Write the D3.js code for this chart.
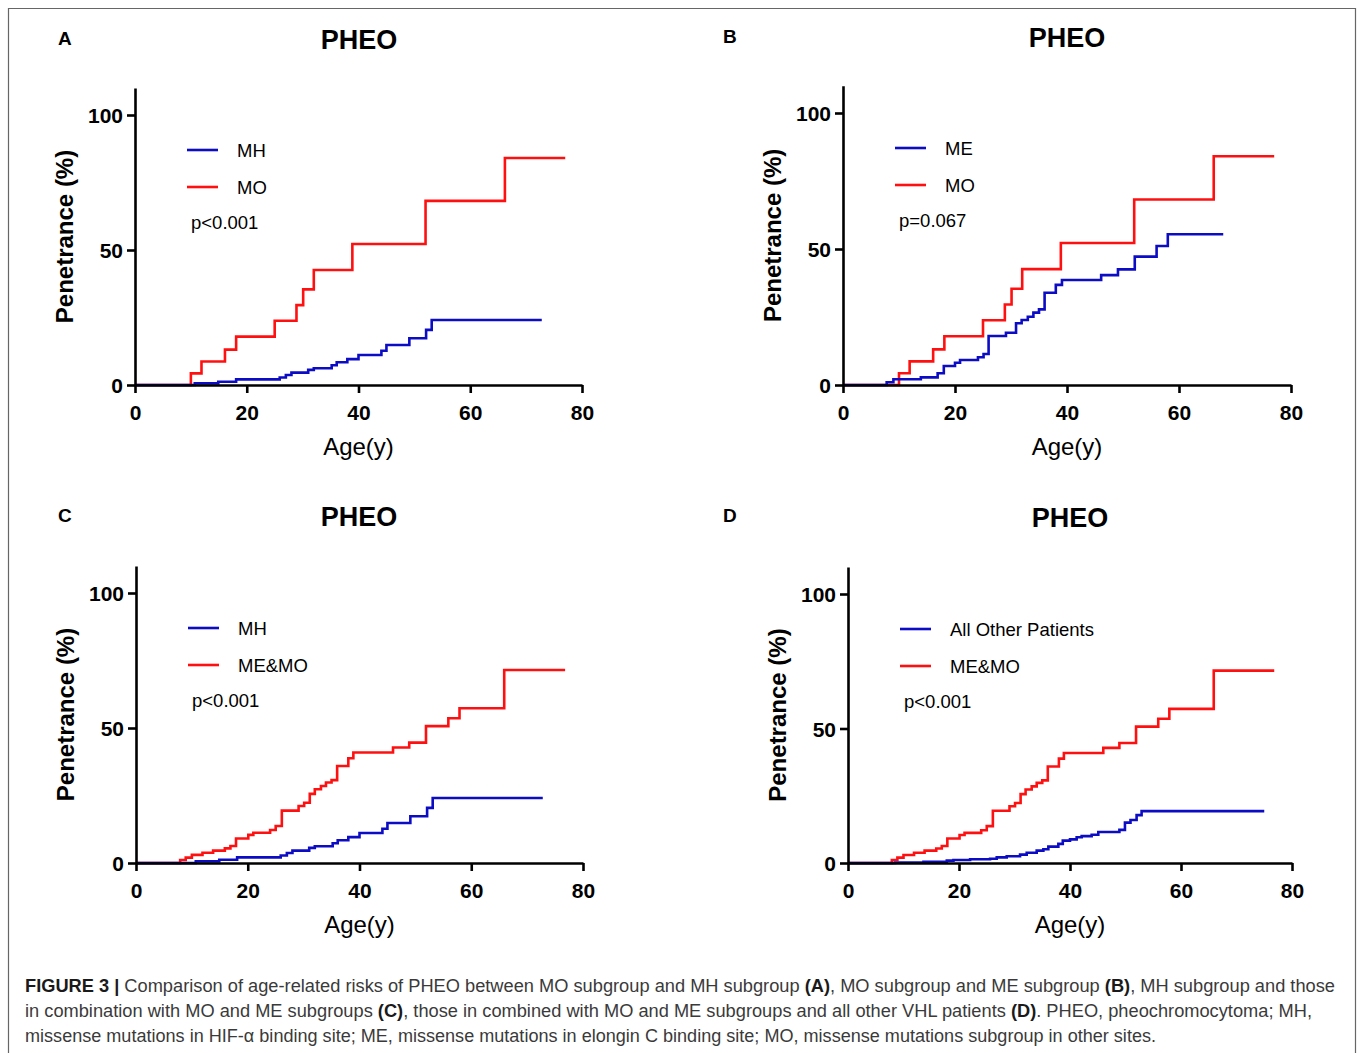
<!DOCTYPE html>
<html>
<head>
<meta charset="utf-8">
<script src="https://cdn.jsdelivr.net/npm/d3@7"></script>
<style>
  body { margin: 0; background: #fff; }
  svg { display: block; }
</style>
</head>
<body>
<svg id="fig" width="1357" height="1053"></svg>
<script>
// step data: age (years) and cumulative penetrance (%)
var mhAges = [0, 10.7, 14.9, 18.1, 25.9, 27.0, 28.0, 31.0, 32.0, 35.2, 36.1, 38.0, 40.0, 44.1, 45.0, 49.1, 52.1, 53.1, 72.8];
var mhPen  = [0, 0.6, 1.2, 2.1, 2.8, 3.7, 4.6, 5.6, 6.2, 7.3, 8.4, 9.6, 11.1, 12.7, 14.8, 17.3, 20.4, 24.1, 24.1];

var moAges = [0, 10.0, 11.9, 16.1, 18.1, 25.0, 28.9, 30.1, 32.0, 38.9, 52.0, 66.2, 77.0];
var moPen  = [0, 4.3, 8.7, 13.1, 17.9, 23.8, 29.6, 35.4, 42.6, 52.2, 68.2, 84.1, 84.1];

var meAges = [0, 7.8, 9.0, 13.9, 16.9, 18.0, 20.0, 20.9, 24.1, 25.1, 26.0, 29.1, 30.9, 31.9, 33.0, 34.0, 35.0, 36.0, 38.0, 39.1, 46.1, 49.1, 52.1, 56.0, 58.0, 67.9];
var mePen  = [0, 1.0, 2.1, 2.8, 4.3, 7.0, 8.2, 9.2, 10.2, 11.4, 18.0, 19.2, 22.7, 23.9, 25.1, 26.6, 27.8, 33.9, 36.8, 38.6, 40.4, 42.5, 47.2, 51.1, 55.4, 55.4];

var memoAges = [0, 7.9, 8.9, 10.0, 11.9, 13.8, 15.9, 16.9, 17.9, 20.1, 21.0, 24.0, 25.0, 26.1, 29.1, 30.1, 31.1, 32.0, 33.1, 34.0, 35.0, 36.0, 38.0, 38.9, 46.0, 48.9, 51.9, 55.9, 57.9, 65.9, 76.8];
var memoPen  = [0, 1.1, 2.0, 3.0, 3.8, 4.6, 5.4, 6.3, 9.1, 10.4, 11.2, 12.2, 13.7, 19.4, 21.1, 22.3, 25.6, 27.3, 28.5, 29.8, 30.7, 35.9, 38.8, 40.9, 42.8, 44.6, 50.7, 53.6, 57.3, 71.5, 71.5];

var otherAges = [0, 8.5, 13.6, 17.8, 19.0, 22.0, 25.6, 26.8, 28.6, 31.0, 32.2, 34.0, 35.2, 36.1, 37.9, 38.7, 40.0, 41.2, 42.1, 43.9, 45.1, 48.9, 49.9, 50.9, 52.0, 52.9, 75.0];
var otherPen  = [0, 0.2, 0.4, 0.9, 1.1, 1.4, 1.6, 2.1, 2.5, 3.1, 3.8, 4.6, 5.1, 6.1, 7.1, 8.3, 8.8, 9.6, 10.0, 10.5, 11.5, 12.3, 15.0, 16.0, 17.8, 19.3, 19.3];

var xTicks = [0, 20, 40, 60, 80];
var yTicks = [0, 50, 100];
var panelLetters = ["A", "B", "C", "D"];
var blueNames = ["MH", "ME", "MH", "All Other Patients"];
var redNames = ["MO", "MO", "ME&MO", "ME&MO"];
var pValues = ["p<0.001", "p=0.067", "p<0.001", "p<0.001"];

var blueSeries = [[mhAges, mhPen], [meAges, mePen], [mhAges, mhPen], [otherAges, otherPen]];
var redSeries = [[moAges, moPen], [moAges, moPen], [memoAges, memoPen], [memoAges, memoPen]];

var BLUE = "#0c0cc4";
var RED = "#ff1010";
var FONT = "'Liberation Sans', Arial, sans-serif";

// pixel frame of each panel: x of age 0 / 80, y of value 0 / 100
var frames = [
  {x0: 135, x1: 582, y0: 385, y100: 115, lx: 52, letterX: 58, letterY: 45, titleX: 359, titleY: 50},
  {x0: 843, x1: 1291, y0: 385, y100: 113, lx: 52, letterX: 723, letterY: 43, titleX: 1067, titleY: 48},
  {x0: 136, x1: 583, y0: 863, y100: 593, lx: 52, letterX: 58, letterY: 522, titleX: 359, titleY: 527},
  {x0: 848, x1: 1292, y0: 863, y100: 594, lx: 52, letterX: 723, letterY: 522, titleX: 1070, titleY: 528}
];

var svg = d3.select("#fig");

// outer frame, open at the bottom
svg.append("path")
  .attr("d", "M8.5 1053 V8.5 H1355.5 V1053")
  .attr("fill", "none")
  .attr("stroke", "#666")
  .attr("stroke-width", 1.2);

function toPoints(s) {
  return s[0].map(function(a, i) { return [a, s[1][i]]; });
}

function drawPanel(i) {
  var f = frames[i];
  var x = d3.scaleLinear().domain([0, 80]).range([f.x0, f.x1]);
  var y = d3.scaleLinear().domain([0, 110]).range([f.y0, f.y0 - (f.y0 - f.y100) * 1.1]);
  var g = svg.append("g");

  g.append("text")
    .attr("x", f.letterX).attr("y", f.letterY)
    .attr("font-family", FONT).attr("font-weight", "bold").attr("font-size", 19)
    .text(panelLetters[i]);

  g.append("text")
    .attr("x", f.titleX).attr("y", f.titleY - 1)
    .attr("text-anchor", "middle")
    .attr("font-family", FONT).attr("font-weight", "bold").attr("font-size", 27)
    .text("PHEO");

  var line = d3.line()
    .x(function(d) { return x(d[0]); })
    .y(function(d) { return y(d[1]); })
    .curve(d3.curveStepAfter);

  g.append("path")
    .attr("d", line(toPoints(redSeries[i])))
    .attr("fill", "none").attr("stroke", RED).attr("stroke-width", 2.6);
  g.append("path")
    .attr("d", line(toPoints(blueSeries[i])))
    .attr("fill", "none").attr("stroke", BLUE).attr("stroke-width", 2.6);

  var xa = g.append("g")
    .attr("transform", "translate(0," + f.y0 + ")")
    .call(d3.axisBottom(x).tickValues(xTicks).tickSize(8).tickSizeOuter(0).tickPadding(12));
  var ya = g.append("g")
    .attr("transform", "translate(" + f.x0 + ",0)")
    .call(d3.axisLeft(y).tickValues(yTicks).tickSize(8).tickSizeOuter(0).tickPadding(4));

  [xa, ya].forEach(function(a) {
    a.select(".domain").attr("stroke", "#000").attr("stroke-width", 2.6);
    a.selectAll(".tick line").attr("stroke", "#000").attr("stroke-width", 2.6);
    a.selectAll(".tick text")
      .attr("fill", "#000")
      .attr("font-family", FONT).attr("font-weight", "bold").attr("font-size", 21);
  });
  ya.selectAll(".tick text").attr("dy", "0.36em");

  g.append("text")
    .attr("x", (f.x0 + f.x1) / 2).attr("y", f.y0 + 70)
    .attr("text-anchor", "middle")
    .attr("font-family", FONT).attr("font-size", 24)
    .text("Age(y)");

  g.append("text")
    .attr("transform", "translate(" + (f.x0 - 62) + "," + ((f.y0 + y(110)) / 2) + ") rotate(-90)")
    .attr("text-anchor", "middle")
    .attr("font-family", FONT).attr("font-weight", "bold").attr("font-size", 24)
    .text("Penetrance (%)");

  // legend
  var lx = f.x0 + f.lx;
  var ly1 = y(100) + 35, ly2 = y(100) + 72;
  [[ly1, BLUE, blueNames[i]], [ly2, RED, redNames[i]]].forEach(function(r) {
    g.append("line")
      .attr("x1", lx).attr("x2", lx + 31)
      .attr("y1", r[0]).attr("y2", r[0])
      .attr("stroke", r[1]).attr("stroke-width", 2.6);
    g.append("text")
      .attr("x", lx + 50).attr("y", r[0] + 7)
      .attr("font-family", FONT).attr("font-size", 18.5)
      .text(r[2]);
  });
  g.append("text")
    .attr("x", lx + 4).attr("y", y(100) + 114)
    .attr("font-family", FONT).attr("font-size", 18.5)
    .text(pValues[i]);
}

for (var i = 0; i < 4; i++) drawPanel(i);

// caption
var captionLines = [
  [["b", "FIGURE 3 | "], ["r", "Comparison of age-related risks of PHEO between MO subgroup and MH subgroup "], ["b", "(A)"], ["r", ", MO subgroup and ME subgroup "], ["b", "(B)"], ["r", ", MH subgroup and those"]],
  [["r", "in combination with MO and ME subgroups "], ["b", "(C)"], ["r", ", those in combined with MO and ME subgroups and all other VHL patients "], ["b", "(D)"], ["r", ". PHEO, pheochromocytoma; MH,"]],
  [["r", "missense mutations in HIF-\u03B1 binding site; ME, missense mutations in elongin C binding site; MO, missense mutations subgroup in other sites."]]
];
var captionWidths = [1310, 1287, 1131];

captionLines.forEach(function(parts, k) {
  var t = svg.append("text")
    .attr("x", 25).attr("y", 992 + k * 25)
    .attr("font-family", FONT).attr("font-size", 17.5)
    .attr("fill", "#3a3a3a")
    .attr("textLength", captionWidths[k])
    .attr("lengthAdjust", "spacingAndGlyphs");
  parts.forEach(function(p) {
    t.append("tspan")
      .attr("font-weight", p[0] === "b" ? "bold" : "normal")
      .attr("fill", p[0] === "b" ? "#1a1a1a" : "#3a3a3a")
      .text(p[1]);
  });
});
</script>
</body>
</html>
